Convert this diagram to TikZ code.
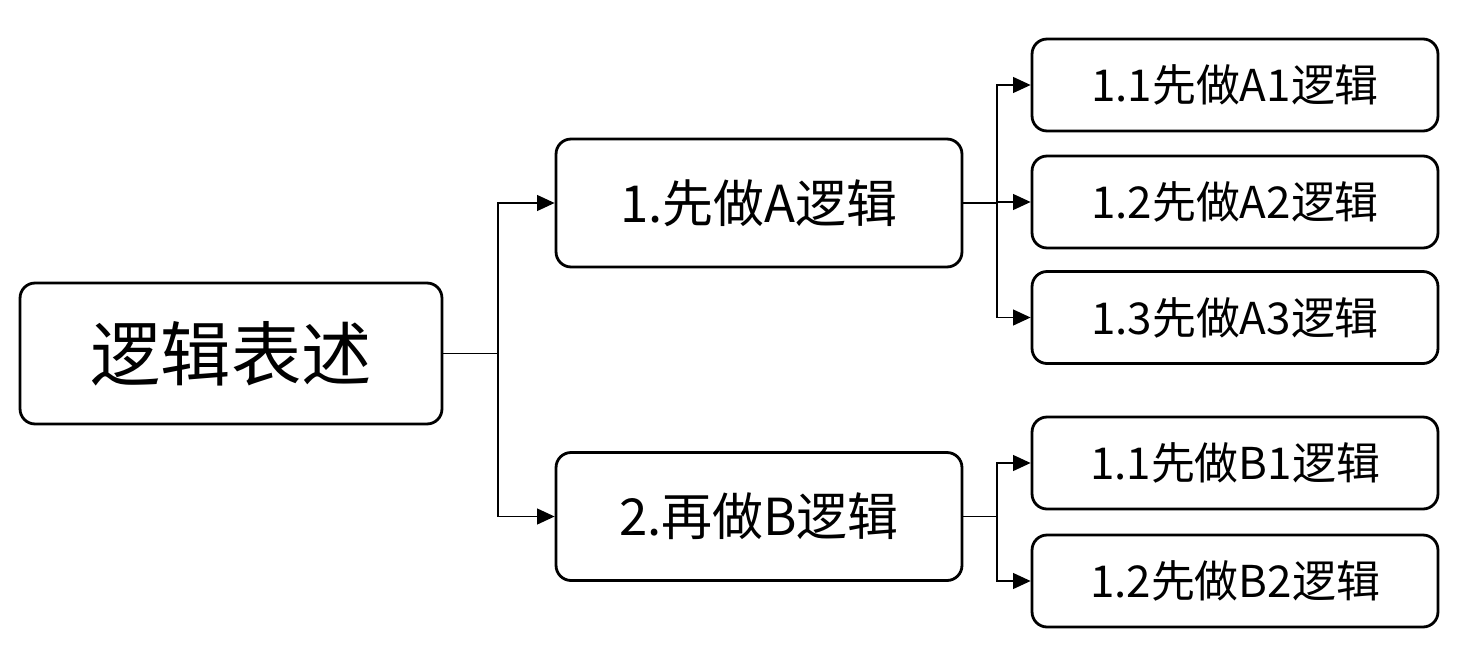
\documentclass[tikz,border=0pt]{standalone}
\usepackage{fontspec}
\setmainfont{Noto Sans CJK SC}
\usetikzlibrary{arrows.meta,positioning}
\begin{document}
\begin{tikzpicture}
	[x=0.02cm, y=-0.02cm,
	box/.style = {draw, line width=1.6pt, rounded corners=0.3cm, align=center, inner sep=0pt},
	main/.style = {box, minimum width=8.44cm, minimum height=2.82cm, font=\fontsize{40}{44}\selectfont},
	mid/.style = {box, minimum width=8.12cm, minimum height=2.56cm, font=\fontsize{29}{33}\selectfont},
	leaf/.style = {box, minimum width=8.12cm, minimum height=1.84cm, font=\fontsize{25}{29}\selectfont},
	link/.style = {line width=1pt, -{Triangle[length=10pt,width=9pt]}}]
\useasboundingbox (0,0) rectangle (1470,652);
\node[main] (root) at (231,353.5) {逻辑表述};
\node[mid] (a) at (759,203) {1.先做A逻辑};
\node[mid] (b) at (759,516.5) {2.再做B逻辑};
\node[leaf] (a1) at (1235,85) {1.1先做A1逻辑};
\node[leaf] (a2) at (1235,202) {1.2先做A2逻辑};
\node[leaf] (a3) at (1235,317.5) {1.3先做A3逻辑};
\node[leaf] (b1) at (1235,463) {1.1先做B1逻辑};
\node[leaf] (b2) at (1235,581) {1.2先做B2逻辑};
\coordinate (f0) at (498,353.5);
\coordinate (fa) at (997,203);
\coordinate (fb) at (997,516.5);
\draw[line width=1pt] (root.east) -- (f0);
\draw[line width=1pt] (a.east) -- (fa);
\draw[line width=1pt] (b.east) -- (fb);
\foreach \c in {a,b} \draw[link] (f0) |- (\c.west);
\foreach \c in {a1,a2,a3} \draw[link] (fa) |- (\c.west);
\foreach \c in {b1,b2} \draw[link] (fb) |- (\c.west);
\end{tikzpicture}
\end{document}
